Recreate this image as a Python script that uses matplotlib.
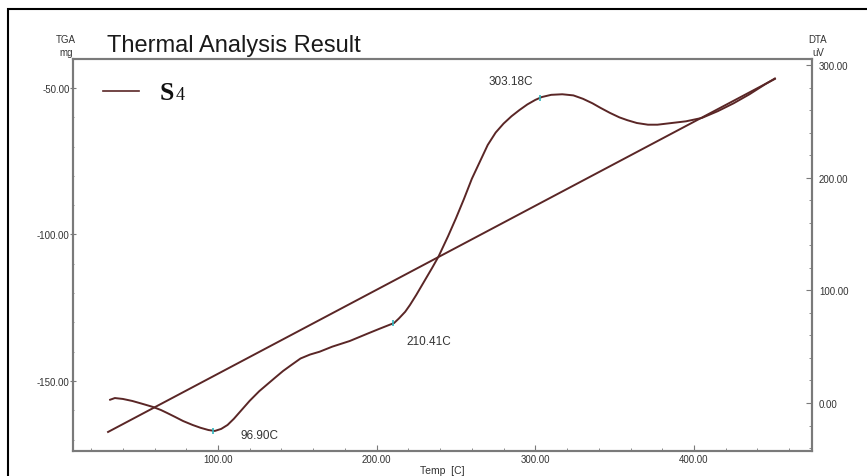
import numpy as np
import matplotlib.pyplot as plt
from matplotlib.ticker import MultipleLocator, FormatStrFormatter
from matplotlib.lines import Line2D
from matplotlib.patches import Rectangle

plt.rcParams["font.family"] = ["Liberation Sans", "DejaVu Sans"]

# TGA curve (left axis, mg)
tga_temp = [30.7, 451.0]
tga_mg = [-167.4, -46.9]

# DTA curve (right axis, uV)
dta_temp = [32, 35, 40, 46, 52, 59, 64, 68, 73, 78, 84, 89, 94, 98, 102,
            106, 110, 115, 120, 126, 131, 136, 141, 146, 152, 158, 164, 172,
            183, 195, 202, 211, 214, 218, 221, 225, 230, 235, 239, 245, 250,
            255, 260, 265, 270, 275, 280, 285, 290, 295, 300, 304, 310, 317,
            324, 330, 336, 341, 347, 353, 358, 364, 371, 377, 383, 389, 395,
            400, 405, 410, 415, 420, 425, 430, 435, 440, 445, 451]
dta_uv = [2.9, 4.4, 3.6, 1.8, -0.6, -3.5, -6.2, -8.9, -12.4, -16, -19.5, -22,
          -24, -24.8, -23, -19.5, -14, -6, 2, 10.5, 16.5, 22.5, 28.4, 33.5, 39.5,
          43, 45.5, 50, 55, 62, 66, 71, 75, 81, 87, 96, 108, 120, 130, 148, 164,
          181, 199, 214, 229, 240, 248, 254.5, 260, 265, 269, 271.5, 273.5, 274,
          273, 270, 266, 262, 257.5, 253.5, 251, 248.5, 247, 247, 248, 249, 250,
          251.5, 253, 256, 259, 262.5, 266, 270, 274, 278.5, 283, 288]

peak_temp = [96.90, 210.41, 303.18]
peak_text = ["96.90C", "210.41C", "303.18C"]
peak_offset = [(27, -4), (13, -18), (-52, 17)]

line_col = "#5a2626"
spine_col = "#7a7a7a"
text_col = "#333333"

fig = plt.figure(figsize=(8.67, 4.77), dpi=100)
ax = fig.add_axes([73 / 867, 1 - 452 / 477, (812 - 73) / 867, (452 - 60) / 477])
ax2 = ax.twinx()

ax.plot(tga_temp, tga_mg, color=line_col, lw=1.4)
ax2.plot(dta_temp, dta_uv, color=line_col, lw=1.4)

# peak markers + labels on the DTA curve
peak_uv = np.interp(peak_temp, dta_temp, dta_uv)
ax2.plot(peak_temp, peak_uv, ls="none", marker="|", ms=4, mew=1.2, color="#2fb8c0")
for t, v, s, off in zip(peak_temp, peak_uv, peak_text, peak_offset):
    ax2.annotate(s, (t, v), xytext=off, textcoords="offset pixels",
                 ha="left", va="center", fontsize=8.5, color=text_col)

ax.set_xlim(8.6, 474.4)
ax.set_ylim(-173.9, -40.1)
ax2.set_ylim(-42.6, 305.3)

ax.xaxis.set_major_locator(MultipleLocator(100))
ax.xaxis.set_minor_locator(MultipleLocator(20))
ax.yaxis.set_major_locator(MultipleLocator(50))
ax.yaxis.set_minor_locator(MultipleLocator(10))
ax2.yaxis.set_major_locator(MultipleLocator(100))
ax2.yaxis.set_minor_locator(MultipleLocator(20))
for a in (ax.xaxis, ax.yaxis, ax2.yaxis):
    a.set_major_formatter(FormatStrFormatter("%.2f"))

ax.tick_params(axis="x", which="both", direction="in", colors=spine_col,
               labelcolor=text_col, labelsize=7, pad=2)
ax.tick_params(axis="x", which="major", length=4)
ax.tick_params(axis="x", which="minor", length=2)
ax.tick_params(axis="y", which="both", direction="inout", colors=spine_col,
               labelcolor=text_col, labelsize=7, pad=0)
ax.tick_params(axis="y", which="major", length=5)
ax.tick_params(axis="y", which="minor", length=2)
ax2.tick_params(axis="y", which="both", direction="in", colors=spine_col,
                labelcolor=text_col, labelsize=7, pad=5)
ax2.tick_params(axis="y", which="major", length=4)
ax2.tick_params(axis="y", which="minor", length=2)

for a in (ax, ax2):
    for sp in a.spines.values():
        sp.set_color(spine_col)
        sp.set_linewidth(1.5)

ax.set_xlabel("Temp  [C]", fontsize=7.5, color=text_col, labelpad=1)

# headers
fig.text(107 / 867, 1 - 52 / 477, "Thermal Analysis Result", fontsize=17,
         color="#1a1a1a", va="baseline", ha="left")
fig.text(66 / 867, 1 - 40 / 477, "TGA", fontsize=7, color=text_col, ha="center", va="center")
fig.text(73 / 867, 1 - 53 / 477, "mg", fontsize=7, color=text_col, ha="right", va="center")
fig.text(818 / 867, 1 - 40 / 477, "DTA", fontsize=7, color=text_col, ha="center", va="center")
fig.text(818 / 867, 1 - 53 / 477, "uV", fontsize=7, color=text_col, ha="center", va="center")

# legend
fig.add_artist(Line2D([103 / 867, 139 / 867], [1 - 92 / 477, 1 - 92 / 477],
                      color=line_col, lw=1.2))
fig.text(160 / 867, 1 - 100 / 477, "S", family="Liberation Serif", weight="bold",
         fontsize=18.5, color="#101010", va="baseline")
fig.text(176 / 867, 1 - 100 / 477, "4", family="Liberation Serif",
         fontsize=13, color="#101010", va="baseline")

# outer frame (only top/left edges visible)
fig.add_artist(Rectangle((8 / 867, -0.1), 1.2, 1.1 - 10 / 477, fill=False,
                         edgecolor="black", lw=1.5, transform=fig.transFigure))

fig.savefig("out.png", dpi=100)
